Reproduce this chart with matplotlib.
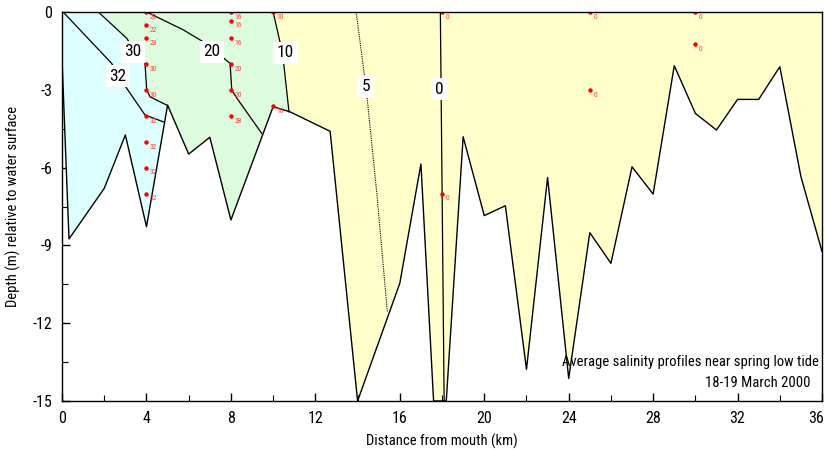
import matplotlib
matplotlib.use("Agg")
import matplotlib.pyplot as plt
from matplotlib import font_manager
from matplotlib.patches import Polygon
from matplotlib.ticker import MultipleLocator
from matplotlib.transforms import ScaledTranslation

# ---------------------------------------------------------------- fonts
# prefer a narrow sans face; fall back to the regular width
_fonts = font_manager.fontManager.ttflist
_narrow = [f for f in _fonts
           if f.style == "normal" and f.weight in (400, "normal", "regular")
           and ("Narrow" in f.name or "Condensed" in f.name
                or f.stretch in ("condensed", "semi-condensed", 400, 300))]
_pref = ["Liberation Sans Narrow", "Roboto Condensed", "Open Sans Condensed",
         "Noto Sans Condensed", "DejaVu Sans"]
_narrow.sort(key=lambda f: _pref.index(f.name) if f.name in _pref else len(_pref))
if _narrow:
    plt.rcParams["font.family"] = [_narrow[0].name, "DejaVu Sans"]
    plt.rcParams["font.stretch"] = _narrow[0].stretch
    SCALE = 1.0
else:
    plt.rcParams["font.family"] = ["Liberation Sans", "DejaVu Sans"]
    SCALE = 0.85
plt.rcParams["axes.unicode_minus"] = False

# ---------------------------------------------------------------- data
# River bed profile: distance from mouth (km) and depth (m)
bed_km = [0, 0.33, 2, 3, 4, 5, 6, 7, 8, 10, 10.8, 12.7, 14, 16, 17, 17.6, 18.2,
          19, 20, 21, 22, 23, 24, 25, 26, 27, 28, 29, 30, 31, 32, 33, 34, 35, 36]
bed_depth = [-1.85, -8.75, -6.8, -4.74, -8.28, -3.59, -5.48, -4.83, -8.02, -3.65,
             -3.85, -4.6, -15, -10.46, -5.86, -15, -15, -4.81, -7.85, -7.47,
             -13.78, -6.38, -14.13, -8.51, -9.69, -5.97, -7.02, -2.07, -3.91,
             -4.55, -3.37, -3.37, -2.11, -6.35, -9.24]

# Isohalines (salinity contours), traced as distance / depth pairs
iso32_km = [0.05, 2.35, 2.90, 3.93, 4.85]
iso32_depth = [0.0, -1.98, -2.75, -3.97, -4.25]
iso30_km = [1.72, 3.06, 3.69, 3.93, 4.01, 4.17, 4.96]
iso30_depth = [0.0, -1.01, -1.79, -1.98, -3.01, -3.27, -3.59]
iso20_km = [4.01, 5.75, 6.69, 7.57, 7.96, 8.04, 8.28, 9.46]
iso20_depth = [0.0, -0.69, -1.15, -1.72, -1.98, -3.01, -3.32, -4.68]
iso10_km = [10.0, 10.45, 10.75]
iso10_depth = [0.0, -1.6, -3.85]
iso5_km = [13.93, 14.4, 14.91, 15.41]
iso5_depth = [0.0, -2.9, -6.99, -11.56]
iso0_km = [17.92, 18.1]
iso0_depth = [0.0, -15.0]

# Contour label text and anchor positions
iso_labels = ["32", "30", "20", "10", "5", "0"]
iso_label_km = [2.65, 3.36, 7.10, 10.56, 14.40, 17.86]
iso_label_depth = [-2.47, -1.54, -1.54, -1.58, -2.89, -2.97]

# Measured salinity at sampling stations
stn_km = [4, 4, 4, 4, 4, 4, 4, 4, 4,
          8, 8, 8, 8, 8, 8,
          10, 10,
          18, 18,
          25, 25,
          30, 30]
stn_depth = [0, -0.5, -1, -2, -3, -4, -5, -6, -7,
             0, -0.33, -1, -2, -3, -4,
             0, -3.62,
             0, -7,
             0, -3,
             0, -1.25]
stn_salinity = [20, 22, 23, 30, 30, 32, 32, 32, 32,
                16, 16, 16, 20, 20, 28,
                10, 10,
                0, 0,
                0, 0,
                0, 0]

x_ticks = [0, 4, 8, 12, 16, 20, 24, 28, 32, 36]
y_ticks = [0, -3, -6, -9, -12, -15]

# ---------------------------------------------------------------- figure
fig = plt.figure(figsize=(8.26, 4.5), dpi=100)
ax = fig.add_axes([0.0751, 0.1089, 0.9201, 0.8644])
ax.set_xlim(0, 36)
ax.set_ylim(-15, 0)

YELLOW = "#ffffcc"
GREEN = "#ddfcdd"
CYAN = "#ddffff"

# water body between surface and bed
water_xy = [(0, 0), (36, 0)] + list(zip(bed_km[::-1], bed_depth[::-1]))
water = Polygon(water_xy, closed=True, facecolor=YELLOW, edgecolor="none", zorder=1)
ax.add_patch(water)

# brackish zone (salinity 10-30) left of the 10 isohaline
green_xy = [(0, 0)] + list(zip(iso10_km, iso10_depth)) + [(iso10_km[-1], -16), (0, -16)]
green = Polygon(green_xy, closed=True, facecolor=GREEN, edgecolor="none", zorder=2)
ax.add_patch(green)
green.set_clip_path(water)

# saline zone (salinity > 30) left of the 30 isohaline
cyan_xy = [(0, 0)] + list(zip(iso30_km, iso30_depth)) + [(iso30_km[-1], -16), (0, -16)]
cyan = Polygon(cyan_xy, closed=True, facecolor=CYAN, edgecolor="none", zorder=3)
ax.add_patch(cyan)
cyan.set_clip_path(water)

# bed profile
ax.plot(bed_km, bed_depth, color="black", lw=1.0, zorder=5)

# isohalines
for xs, ys in [(iso32_km, iso32_depth), (iso30_km, iso30_depth),
               (iso20_km, iso20_depth), (iso10_km, iso10_depth),
               (iso0_km, iso0_depth)]:
    ax.plot(xs, ys, color="black", lw=0.9, zorder=4)
ax.plot(iso5_km, iso5_depth, color="black", lw=0.8, ls=(0, (1, 1)), zorder=4)

for txt, x, y in zip(iso_labels, iso_label_km, iso_label_depth):
    ax.text(x, y, txt, fontsize=12.5 * SCALE, ha="center", va="center", color="black",
            bbox=dict(boxstyle="square,pad=0.2", facecolor="white", edgecolor="none"),
            zorder=6)

# sampling stations
ax.plot(stn_km, stn_depth, "o", color="#ff0000", ms=3.2, mec="none", zorder=7)
for x, y, s in zip(stn_km, stn_depth, stn_salinity):
    ax.annotate(str(s), (x, y), xytext=(2.5, -3.5), textcoords="offset points",
                fontsize=5.5, color="#ff4040", ha="left", va="center", zorder=7)

# caption
ax.text(0.996, 0.099, "Average salinity profiles near spring low tide",
        transform=ax.transAxes, ha="right", va="center", fontsize=10.5 * SCALE, zorder=8)
ax.text(0.985, 0.047, "18-19 March 2000",
        transform=ax.transAxes, ha="right", va="center", fontsize=10.5 * SCALE, zorder=8)

# axes styling
ax.xaxis.set_minor_locator(MultipleLocator(2))
ax.yaxis.set_minor_locator(MultipleLocator(1.5))
ax.set_xticks(x_ticks)
ax.set_xticklabels([str(v) for v in x_ticks])
ax.set_yticks(y_ticks)
ax.set_yticklabels([str(v) for v in y_ticks])
ax.tick_params(which="major", direction="in", length=6, width=1,
               labelsize=11.5 * SCALE, pad=7)
ax.tick_params(which="minor", direction="in", length=4, width=0.8)
for sp in ax.spines.values():
    sp.set_linewidth(1.0)
    sp.set_color("black")
    sp.set_zorder(9)

# keep the last distance label inside the figure edge
_last = ax.get_xticklabels()[-1]
_last.set_transform(_last.get_transform() + ScaledTranslation(-4 / 72, 0, fig.dpi_scale_trans))

ax.set_xlabel("Distance from mouth (km)", fontsize=10.5 * SCALE, labelpad=6)
ax.set_ylabel("Depth (m) relative to water surface", fontsize=10.5 * SCALE, labelpad=8)

fig.savefig("out.png", dpi=100)
